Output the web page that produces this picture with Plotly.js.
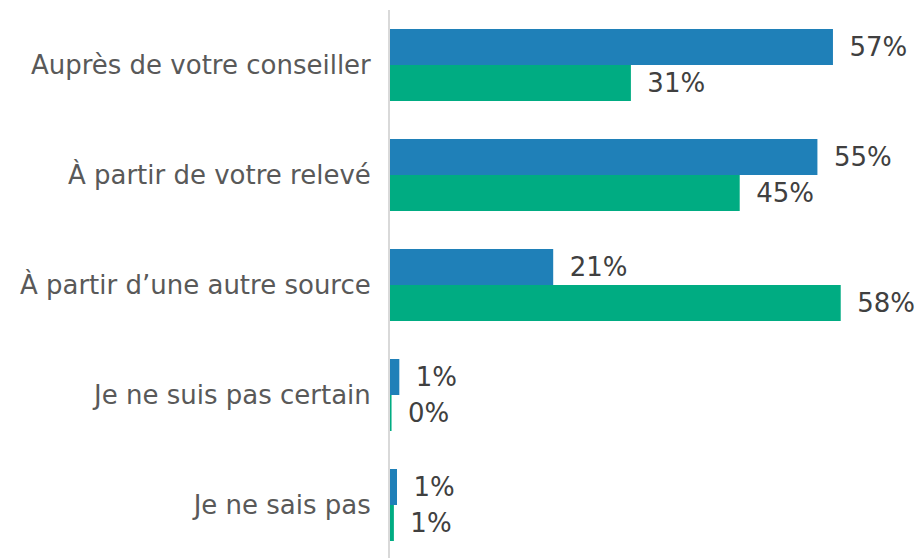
<!DOCTYPE html>
<html><head><meta charset="utf-8">
<script src="https://cdn.plot.ly/plotly-3.0.1.min.js"></script>
<style>html,body{margin:0;padding:0;overflow:hidden;background:#fff}</style>
</head><body>
<div id="chart" style="width:920px;height:560px"></div>
<script>
const categories = ["Auprès de votre conseiller", "À partir de votre relevé", "À partir d’une autre source", "Je ne suis pas certain", "Je ne sais pas"];
const blueValues = [57, 55, 21, 1.2, 0.9];
const greenValues = [31, 45, 58, 0.2, 0.5];
const blueLabels = ["57%", "55%", "21%", "1%", "1%"];
const greenLabels = ["31%", "45%", "58%", "0%", "1%"];

const pad = "\u00a0\u2009";
const common = {
  type: "bar", orientation: "h", y: categories,
  textposition: "outside", cliponaxis: false, constraintext: "none",
  textfont: {family: "DejaVu Sans, Verdana, sans-serif", size: 26, color: "#404040"},
  hoverinfo: "none"
};
const data = [
  Object.assign({}, common, {x: blueValues, text: blueLabels.map(t => pad + t), marker: {color: "#1f80b8"}, name: "A"}),
  Object.assign({}, common, {x: greenValues, text: greenLabels.map(t => pad + t), marker: {color: "#00ac82"}, name: "B"})
];
const layout = {
  width: 920, height: 560,
  margin: {l: 390, r: 0, t: 10, b: 0, pad: 0},
  barmode: "group", bargap: 0.345, bargroupgap: 0,
  showlegend: false,
  paper_bgcolor: "#fff", plot_bgcolor: "#fff",
  font: {family: "DejaVu Sans, Verdana, sans-serif"},
  xaxis: {range: [0, 68.2], visible: false, showgrid: false, zeroline: false, fixedrange: true},
  yaxis: {autorange: "reversed", showline: true, linecolor: "#d9d9d9", linewidth: 2,
          ticks: "", showgrid: false, zeroline: false, ticklabelstandoff: 12,
          tickfont: {family: "DejaVu Sans, Verdana, sans-serif", size: 26, color: "#595959"}}
};
Plotly.newPlot("chart", data, layout, {staticPlot: true, displayModeBar: false});
</script>
</body></html>
